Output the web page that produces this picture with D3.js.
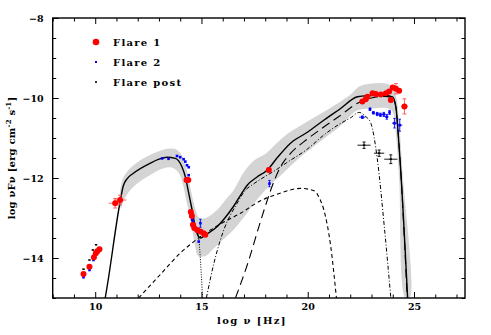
<!DOCTYPE html>
<html><head><meta charset="utf-8">
<script src="https://cdn.jsdelivr.net/npm/d3@7"></script>
<style>body{margin:0;background:#fff}</style>
</head><body><svg id="c" width="491" height="335"></svg>
<script>
// ---- tick labels / legend ----
const xTicksMajor=[10,15,20,25];
const xTickLabels=["10","15","20","25"];
const yTicksMajor=[-14,-12,-10,-8];
const yTickLabels=["\u221214","\u221212","\u221210","\u22128"];
const legendLabels=["Flare 1","Flare 2","Flare post"];

// ---- model curves [log nu, log nuFnu] ----
const modelTotal=[[10.47,-15],[10.55,-14.75],[11.17,-12.6],[11.32,-12.2],[11.5,-12.02],[11.8,-11.88],[12.59,-11.63],[13.0,-11.53],[13.38,-11.48],[13.77,-11.51],[14.08,-11.72],[14.24,-11.97],[14.4,-12.38],[14.56,-12.8],[14.71,-13.22],[14.87,-13.47],[14.97,-13.5],[15.2,-13.42],[15.73,-13.22],[16.1,-13.0],[16.52,-12.7],[16.85,-12.42],[17.15,-12.18],[17.6,-11.98],[18.1,-11.8],[18.6,-11.47],[19.19,-11.13],[20.0,-10.85],[20.77,-10.55],[21.5,-10.28],[22.34,-9.97],[22.81,-9.94],[23.6,-9.93],[23.99,-9.97],[24.15,-10.22],[24.25,-10.85],[24.35,-11.6],[24.7,-15]];
const modelSync=[[14.8,-13.35],[14.88,-13.55],[14.99,-14.4],[15.05,-15]];
const modelShortDash=[[12.04,-15],[13.0,-14.45],[14.0,-13.88],[15.0,-13.45],[16.0,-13.12],[16.84,-12.88],[17.78,-12.57],[18.7,-12.38],[19.66,-12.26],[20.3,-12.32],[20.55,-12.5],[20.76,-12.8],[21.08,-13.7],[21.35,-15]];
const modelDashDot=[[15.23,-15],[15.6,-14.1],[16.05,-13.3],[16.68,-12.63],[17.0,-12.35],[17.5,-12.13],[18.0,-11.96],[18.5,-11.8],[19.0,-11.62],[20.0,-11.27],[20.77,-10.92],[21.5,-10.65],[22.0,-10.5],[22.42,-10.36],[22.7,-10.45],[22.97,-10.63],[23.28,-11.55],[23.6,-13.2],[23.91,-15]];
const modelLongDash=[[16.6,-15],[17.23,-14.05],[17.7,-13.22],[18.1,-12.55],[18.4,-12.1],[18.72,-11.72],[19.2,-11.38],[20.0,-11.02],[20.77,-10.72],[21.5,-10.45],[22.34,-10.13],[23.0,-10.0],[23.6,-9.96],[24.0,-10.0],[24.15,-10.25],[24.3,-11.2],[24.68,-15]];
const bandUpper=[[11.15,-12.45],[11.3,-12.02],[11.6,-11.78],[12.0,-11.6],[12.6,-11.42],[13.4,-11.27],[13.8,-11.28],[14.1,-11.45],[14.3,-11.78],[14.5,-12.3],[14.7,-12.75],[14.9,-13.0],[15.2,-13.0],[15.73,-12.8],[16.2,-12.5],[16.52,-12.3],[17.0,-11.85],[17.5,-11.55],[18.0,-11.4],[18.5,-11.15],[18.96,-10.93],[20.0,-10.58],[21.0,-10.27],[22.0,-9.92],[22.4,-9.72],[23.0,-9.64],[23.6,-9.63],[23.95,-9.7],[24.15,-9.95],[24.3,-10.6],[24.45,-11.8],[24.8,-15]];
const bandLower=[[11.2,-12.75],[11.4,-12.5],[11.8,-12.22],[12.6,-11.92],[13.2,-11.76],[13.6,-11.74],[13.9,-11.85],[14.1,-12.1],[14.3,-12.6],[14.5,-13.05],[14.7,-13.7],[14.85,-13.95],[15.2,-13.95],[15.5,-13.8],[16.0,-13.55],[16.5,-13.3],[17.14,-12.88],[17.6,-12.55],[18.09,-12.25],[18.7,-11.95],[19.5,-11.55],[20.5,-11.12],[21.5,-10.72],[22.3,-10.32],[23.0,-10.26],[23.8,-10.26],[24.0,-10.35],[24.15,-10.9],[24.3,-12.0],[24.6,-15]];

// ---- data [log nu, log nuFnu, xerr, yerr] ----
const flare1=[[9.45,-14.4,0,0],[9.73,-14.22,0,0],[9.94,-13.98,0,0],[10.03,-13.88,0,0],[10.1,-13.83,0,0],[10.2,-13.78,0,0],
[10.94,-12.63,0.3,0.12],[11.17,-12.55,0.3,0.12],
[14.3,-12.05,0,0],[14.38,-12.05,0,0],[14.5,-12.85,0,0],[14.55,-12.95,0,0],[14.6,-13.17,0,0],[14.66,-13.25,0,0],[14.8,-13.3,0,0],[14.95,-13.34,0,0],[15.1,-13.38,0,0],[15.18,-13.42,0,0],
[18.17,-11.8,0,0.05],
[22.57,-10.09,0,0],[22.73,-10.03,0,0],[22.81,-9.97,0,0],[23.05,-9.88,0,0],[23.2,-9.9,0,0],[23.44,-9.91,0,0],[23.68,-9.88,0,0],[23.83,-9.84,0,0],[23.91,-10.05,0.05,0.05],[24.0,-9.74,0,0],[24.15,-9.77,0.15,0.13],[24.3,-9.82,0,0],[24.55,-10.21,0.15,0.19]];
const flare2=[[9.45,-14.48,0,0],[9.73,-14.3,0,0],[9.92,-14.05,0,0],
[13.15,-11.51,0,0],[13.45,-11.52,0,0],[13.85,-11.45,0,0],[14.0,-11.48,0,0],[14.16,-11.53,0,0],[14.24,-11.59,0,0],[14.32,-11.68,0,0],[14.4,-11.73,0,0],[14.4,-11.93,0,0],[14.56,-13.05,0,0],[14.6,-13.1,0,0],[14.87,-13.59,0,0],[14.95,-13.13,0,0.1],
[18.2,-12.14,0,0.08],
[22.57,-10.48,0.15,0.03],[22.93,-10.28,0.05,0.03],[23.09,-10.37,0.08,0.03],[23.27,-10.4,0.08,0.04],[23.42,-10.42,0.08,0.04],[23.58,-10.41,0.08,0.05],[23.72,-10.47,0.08,0.06],[23.85,-10.36,0.05,0.05],[24.08,-10.63,0.12,0.12],[24.33,-10.68,0.12,0.15]];
const flarePost=[[9.45,-14.28,0,0],[9.73,-14.05,0,0],[9.89,-13.8,0,0],[10.04,-13.67,0,0],
[22.65,-11.18,0.31,0.08],[23.36,-11.38,0.24,0.08],[23.91,-11.53,0.31,0.11]];

// ---- drawing ----
const svg=d3.select("#c");
const L=52.7,R=465,T=18,B=298;
const x=d3.scaleLinear().domain([8,27.4]).range([L,R]);
const y=d3.scaleLinear().domain([-15,-8]).range([B,T]);
const FONT="DejaVu Serif";

svg.append("clipPath").attr("id","clip").append("rect").attr("x",L).attr("y",T).attr("width",R-L).attr("height",B-T);
const g=svg.append("g").attr("clip-path","url(#clip)");

const ln=d3.line().x(d=>x(d[0])).y(d=>y(d[1]));
g.append("path")
 .attr("d",d3.line().x(d=>x(d[0])).y(d=>y(d[1])).curve(d3.curveCatmullRomClosed.alpha(0.5))(bandUpper.concat(bandLower.slice().reverse())))
 .attr("fill","#d4d4d4");

function curve(data,dash,w){
  g.append("path").attr("d",ln.curve(d3.curveMonotoneX)(data)).attr("fill","none")
   .attr("stroke","#000").attr("stroke-width",w).attr("stroke-dasharray",dash);
}
curve(modelShortDash,"4,3",1.1);
curve(modelDashDot,"4,2,1,2",1.0);
curve(modelLongDash,"9,5",1.1);
curve(modelSync,"1,1.5",1.0);
curve(modelTotal,null,1.4);

function errbars(data,color,cap){
  const e=g.append("g").attr("stroke",color).attr("stroke-width",0.9);
  data.forEach(d=>{
    if(d[2]>0) e.append("line").attr("x1",x(d[0]-d[2])).attr("x2",x(d[0]+d[2])).attr("y1",y(d[1])).attr("y2",y(d[1]));
    if(d[3]>0){
      e.append("line").attr("x1",x(d[0])).attr("x2",x(d[0])).attr("y1",y(d[1]-d[3])).attr("y2",y(d[1]+d[3]));
      [d[1]-d[3],d[1]+d[3]].forEach(v=>e.append("line").attr("x1",x(d[0])-cap).attr("x2",x(d[0])+cap).attr("y1",y(v)).attr("y2",y(v)));
    }
  });
}
errbars(flarePost,"#000",1.5);
errbars(flare2,"#0000ff",1.2);
errbars(flare1,"#ff5050",2);

g.selectAll(".p0").data(flarePost).enter().append("rect")
 .attr("x",d=>x(d[0])-1.2).attr("y",d=>y(d[1])-0.8).attr("width",2.4).attr("height",1.6).attr("fill","#000");
g.selectAll(".p1").data(flare2).enter().append("rect")
 .attr("x",d=>x(d[0])-1.3).attr("y",d=>y(d[1])-1.3).attr("width",2.6).attr("height",2.6).attr("fill","#0000ff");
g.selectAll(".p2").data(flare1).enter().append("circle")
 .attr("cx",d=>x(d[0])).attr("cy",d=>y(d[1])).attr("r",3).attr("fill","#ff0000");

// axes (ticks inward on all sides)
function ax(gen,tr,vals,size,fmt,pad){
  const a=svg.append("g").attr("transform",tr)
   .call(gen.tickValues(vals).tickSize(size).tickPadding(pad).tickFormat(fmt));
  a.select(".domain").remove();
  a.selectAll("line").attr("stroke","#000").attr("stroke-width",1);
  a.selectAll("text").attr("font-family",FONT).attr("font-size","9.5px").attr("font-weight","bold").attr("fill","#000");
  return a;
}
const xMinor=d3.range(8,28,1).filter(v=>!xTicksMajor.includes(v));
const yMinor=d3.range(-15,-7.9,0.5).filter(v=>!yTicksMajor.includes(v));
ax(d3.axisBottom(x),`translate(0,${B})`,xTicksMajor,-6,(d,i)=>xTickLabels[i],5);
ax(d3.axisBottom(x),`translate(0,${B})`,xMinor,-3.5,"",5);
ax(d3.axisTop(x),`translate(0,${T})`,xTicksMajor,-6,"",5);
ax(d3.axisTop(x),`translate(0,${T})`,xMinor,-3.5,"",5);
ax(d3.axisLeft(y),`translate(${L},0)`,yTicksMajor,-6,(d,i)=>yTickLabels[i],9);
ax(d3.axisLeft(y),`translate(${L},0)`,yMinor,-3.5,"",9);
ax(d3.axisRight(y),`translate(${R},0)`,yTicksMajor,-6,"",5);
ax(d3.axisRight(y),`translate(${R},0)`,yMinor,-3.5,"",5);

svg.append("rect").attr("x",L).attr("y",T).attr("width",R-L).attr("height",B-T)
 .attr("fill","none").attr("stroke","#000").attr("stroke-width",1.4);

// axis titles
svg.append("text").attr("x",252).attr("y",324).attr("text-anchor","middle")
 .attr("font-family",FONT).attr("font-size","10px").attr("font-weight","bold").attr("letter-spacing","1.4px")
 .text("log \u03bd [Hz]");
const yt=svg.append("text").attr("transform","translate(15,158) rotate(-90)").attr("text-anchor","middle")
 .attr("font-family",FONT).attr("font-size","10px").attr("font-weight","bold").attr("letter-spacing","0.2px");
yt.append("tspan").text("log \u03bdF\u03bd [erg cm");
yt.append("tspan").attr("font-size","7px").attr("dy","-4").text("-2");
yt.append("tspan").attr("dy","4").text(" s");
yt.append("tspan").attr("font-size","7px").attr("dy","-4").text("-1");
yt.append("tspan").attr("dy","4").text("]");

// legend
const lg=svg.append("g");
const ly=[42,62,82];
lg.append("circle").attr("cx",96).attr("cy",ly[0]).attr("r",3.3).attr("fill","#ff0000");
lg.append("rect").attr("x",95).attr("y",ly[1]-1).attr("width",2).attr("height",2).attr("fill","#0000ff");
lg.append("rect").attr("x",95).attr("y",ly[2]-0.8).attr("width",2).attr("height",1.6).attr("fill","#000");
legendLabels.forEach((t,i)=>lg.append("text").attr("x",113).attr("y",ly[i]+3.5)
 .attr("font-family",FONT).attr("font-size","10px").attr("font-weight","bold").attr("letter-spacing","1.3px").text(t));
</script></body></html>
